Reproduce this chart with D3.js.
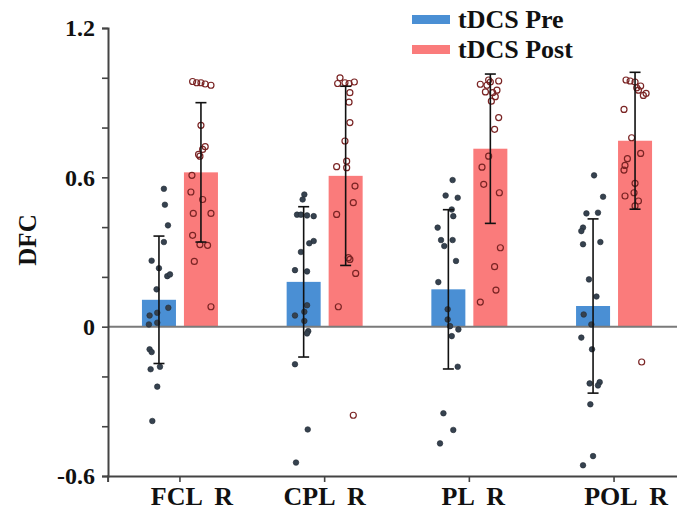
<!DOCTYPE html>
<html>
<head>
<meta charset="utf-8">
<script src="https://cdn.jsdelivr.net/npm/d3@7"></script>
<style>
  html, body { margin: 0; padding: 0; background: #ffffff; }
  svg { display: block; }
  text { font-family: "Liberation Serif", "Times New Roman", serif; font-weight: bold; fill: #111; }
</style>
</head>
<body>
<svg id="chart" width="677" height="515"></svg>
<script>
// ---------- data ----------
const categories = ["FCL  R", "CPL  R", "PL  R", "POL  R"];
const series = ["tDCS Pre", "tDCS Post"];
const preMean  = [0.108, 0.180, 0.150, 0.083];
const postMean = [0.620, 0.606, 0.715, 0.747];
const preSD    = [0.256, 0.302, 0.320, 0.350];
const postSD   = [0.280, 0.360, 0.300, 0.275];
const yTicks = [-0.6, -0.4, -0.2, 0, 0.2, 0.4, 0.6, 0.8, 1.0, 1.2];
const yTickLabels = ["-0.6", "", "", "0", "", "", "0.6", "", "", "1.2"];

// individual subject values
const preFCL = [0.554,0.49,0.407,0.34,0.265,0.235,0.203,0.21,0.15,0.076,0.045,0.009,0.016,-0.091,-0.102,-0.161,-0.171,-0.241,-0.379,0.056];
const preFCLj = [0.29,0.35,0.53,0.29,-0.43,0,0.49,0.65,-0.14,0.55,-0.55,-0.59,-0.1,-0.55,-0.43,0.06,-0.49,-0.1,-0.39,-0.1];
const postFCL = [0.985,0.98,0.98,0.975,0.97,0.809,0.723,0.712,0.692,0.685,0.608,0.541,0.511,0.455,0.455,0.367,0.33,0.327,0.262,0.08];
const postFCLj = [-0.49,-0.25,0,0.25,0.59,0,0.25,0.1,-0.14,-0.06,-0.53,-0.59,0.1,-0.45,0.59,-0.49,-0.06,0.39,-0.39,0.59];

const preCPL = [0.531,0.511,0.45,0.45,0.447,0.444,0.344,0.335,0.30,0.227,0.222,0.086,0.045,0.023,-0.018,-0.027,-0.151,-0.413,-0.546,0.06];
const preCPLj = [0.04,-0.06,-0.39,-0.16,0.2,0.59,0.59,0.33,-0.16,-0.51,0.2,0.2,-0.51,0.04,0.27,0.2,-0.51,0.24,-0.45,0.04];
const postCPL = [1.0,0.977,0.98,0.977,0.983,0.94,0.902,0.82,0.746,0.665,0.643,0.639,0.565,0.498,0.451,0.277,0.27,0.214,0.08,-0.356];
const postCPLj = [-0.33,-0.47,-0.04,0.2,0.51,0.25,0.2,0.25,-0.04,0.06,-0.53,0.06,0.55,0.45,-0.53,0.16,0.25,0.59,-0.43,0.45];

const prePL = [0.589,0.527,0.518,0.471,0.444,0.398,0.348,0.324,0.348,0.264,0.179,0.07,0.029,0.002,-0.011,-0.038,-0.161,-0.348,-0.415,-0.469];
const prePLj = [0.25,-0.16,0.55,0.2,0.29,-0.63,-0.43,-0.24,0.25,0.45,-0.59,-0.04,-0.04,0.1,0.59,0.2,0.55,-0.29,0.29,-0.49];
const postPL = [0.974,0.991,0.983,0.987,0.943,0.94,0.924,0.906,0.84,0.793,0.685,0.641,0.572,0.538,0.317,0.241,0.147,0.099,0.97,0.95];
const postPLj = [-0.59,-0.1,0,0.49,-0.29,0.14,0.29,0.06,0.49,0.25,-0.1,-0.49,-0.39,0.53,0.59,0.25,0.33,-0.59,-0.2,0.39];

const prePOL = [0.608,0.522,0.455,0.458,0.398,0.384,0.331,0.34,0.19,0.121,0.049,0.009,-0.044,-0.091,-0.228,-0.223,-0.236,-0.312,-0.52,-0.557];
const prePOLj = [0.06,0.59,-0.39,0.29,-0.59,-0.69,-0.59,0.43,-0.24,0.2,-0.55,-0.1,-0.69,-0.06,-0.2,0.39,0.29,-0.16,0,-0.59];
const postPOL = [0.991,0.987,0.983,0.967,0.937,0.929,0.873,0.759,0.696,0.675,0.648,0.629,0.576,0.525,0.538,0.505,0.485,-0.142,0.96,0.95];
const postPOLj = [-0.53,-0.29,0,0.33,0.65,0.49,-0.65,-0.2,0.33,-0.45,-0.59,-0.65,0,-0.59,-0.06,0.2,0,0.39,0.1,0.2];

const preSubjects  = [preFCL, preCPL, prePL, prePOL];
const preJitter    = [preFCLj, preCPLj, prePLj, prePOLj];
const postSubjects = [postFCL, postCPL, postPL, postPOL];
const postJitter   = [postFCLj, postCPLj, postPLj, postPOLj];

// ---------- layout / style ----------
const W = 677, H = 515;
const colors = { "tDCS Pre": "#4a8fd4", "tDCS Post": "#fa7b7b" };
const labelDx = [12, 0, 4, 12];

const svg = d3.select("#chart");
svg.append("rect").attr("width", W).attr("height", H).attr("fill", "#fff");

const y = d3.scaleLinear().domain([-0.6, 1.2]).range([476, 28]);
const x = d3.scaleBand().domain(categories).range([107.6, 686.4]);
const xs = d3.scaleBand().domain(series)
  .range([x.bandwidth() / 2 - 38, x.bandwidth() / 2 + 38]).paddingInner(0.19);
const half = xs.bandwidth() / 2;

// rows
const rows = [];
categories.forEach((c, i) => {
  rows.push({ cat: c, s: "tDCS Pre", mean: preMean[i], sd: preSD[i], pts: preSubjects[i], jit: preJitter[i] });
  rows.push({ cat: c, s: "tDCS Post", mean: postMean[i], sd: postSD[i], pts: postSubjects[i], jit: postJitter[i] });
});
const cx = d => x(d.cat) + xs(d.s) + half;

// bars
svg.append("g").selectAll("rect").data(rows).join("rect")
  .attr("x", d => x(d.cat) + xs(d.s))
  .attr("width", xs.bandwidth())
  .attr("y", d => y(Math.max(0, d.mean)))
  .attr("height", d => Math.abs(y(d.mean) - y(0)))
  .attr("fill", d => colors[d.s]);

// zero line
svg.append("line")
  .attr("x1", 108).attr("x2", W)
  .attr("y1", y(0)).attr("y2", y(0))
  .attr("stroke", "#7a7a7a").attr("stroke-width", 2);

// points
const pts = [];
rows.forEach(r => r.pts.forEach((v, k) => pts.push({ r, v, j: r.jit[k] })));
svg.append("g").selectAll("circle").data(pts).join("circle")
  .attr("cx", d => cx(d.r) + d.j * half)
  .attr("cy", d => y(d.v))
  .attr("r", d => d.r.s === "tDCS Pre" ? 2.8 : 3.0)
  .attr("fill", d => d.r.s === "tDCS Pre" ? "#36424f" : "none")
  .attr("stroke", d => d.r.s === "tDCS Pre" ? "#242c36" : "#7a2424")
  .attr("stroke-width", d => d.r.s === "tDCS Pre" ? 0.6 : 1.2);

// error bars
const eb = svg.append("g").attr("stroke", "#111").attr("stroke-width", 1.6).attr("fill", "none");
rows.forEach(r => {
  const c = cx(r);
  const top = y(r.mean + r.sd), bot = y(r.mean - r.sd);
  eb.append("line").attr("x1", c).attr("x2", c).attr("y1", top).attr("y2", bot);
  eb.append("line").attr("x1", c - 5.5).attr("x2", c + 5.5).attr("y1", top).attr("y2", top);
  eb.append("line").attr("x1", c - 5.5).attr("x2", c + 5.5).attr("y1", bot).attr("y2", bot);
});

// y axis
const yAxis = svg.append("g").attr("transform", "translate(108,0)")
  .call(d3.axisLeft(y).tickValues(yTicks).tickSize(6).tickPadding(7)
    .tickFormat((d, i) => yTickLabels[i]));
yAxis.select(".domain").attr("stroke", "#444").attr("stroke-width", 2);
yAxis.selectAll(".tick line").attr("stroke", "#444").attr("stroke-width", 1.6);
yAxis.selectAll(".tick text")
  .style("font-family", "'Liberation Serif', serif").style("font-weight", "bold")
  .style("font-size", "24px").attr("fill", "#111");

// x axis
const xAxis = svg.append("g").attr("transform", "translate(0,476)")
  .call(d3.axisBottom(x).tickSize(6).tickPadding(5));
xAxis.select(".domain").attr("stroke", "#444").attr("stroke-width", 2);
xAxis.selectAll(".tick line").attr("stroke", "#444").attr("stroke-width", 1.6);
xAxis.selectAll(".tick text")
  .style("font-family", "'Liberation Serif', serif").style("font-weight", "bold")
  .style("font-size", "26px").style("white-space", "pre").attr("fill", "#111")
  .attr("dx", (d, i) => labelDx[i]);

// y label
svg.append("text")
  .attr("transform", "translate(36,240) rotate(-90)")
  .attr("text-anchor", "middle")
  .style("font-size", "25px")
  .text("DFC");

// legend
const leg = svg.append("g");
series.forEach((s, i) => {
  const yy = 15 + i * 30;
  leg.append("rect").attr("x", 412).attr("y", yy).attr("width", 38).attr("height", 9).attr("fill", colors[s]);
  leg.append("text").attr("x", 458).attr("y", yy + 13).style("font-size", "26px").text(s);
});
</script>
</body>
</html>
